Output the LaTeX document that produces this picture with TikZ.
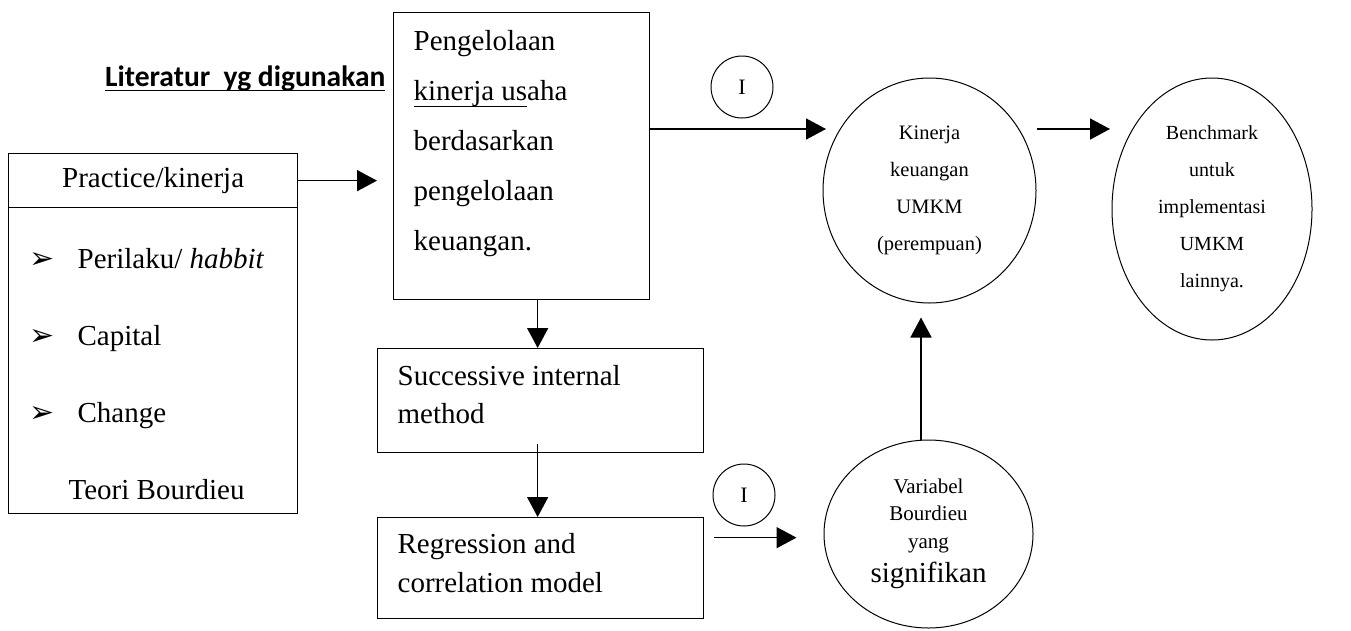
\documentclass[tikz,border=0pt]{standalone}
\usepackage{fontspec}
\setmainfont{Liberation Serif}
\newfontfamily\titlefont{Carlito}
\newfontfamily\symfont{DejaVu Sans}
\usetikzlibrary{arrows.meta,shapes.geometric}

\newsavebox\ulbox
\newcommand\ulin[3]{\sbox\ulbox{#3}\rlap{\rule[-#1]{\wd\ulbox}{#2}}\usebox\ulbox}
\newcommand\itm{\makebox[48pt][l]{\symfont\fontsize{30}{30}\selectfont ➢}}

\begin{document}
\begin{tikzpicture}[x=1pt,y=-1pt,
    box/.style={draw=black,line width=1.3pt,inner sep=0pt,anchor=north west},
    bubble/.style={draw=black,ellipse,line width=1pt,inner sep=0pt,align=center},
    marker/.style={draw=black,circle,minimum size=62pt,inner sep=0pt,line width=1pt,font=\fontsize{22}{22}\selectfont},
    arr/.style={-{Triangle[length=20pt,width=21pt]},line width=1.5pt}]
    \useasboundingbox (0,0) rectangle (1351,630);

    \node[anchor=base west,inner sep=0pt,font=\titlefont\bfseries\fontsize{29.5}{30}\selectfont] (lit) at (105,86) {\ulin{5pt}{1.5pt}{Literatur\ \ yg digunakan}};

    % teori bourdieu
    \node[box,minimum width=289pt,minimum height=54pt,font=\fontsize{29}{34}\selectfont] (head) at (8,153) {Practice/kinerja};
    \node[box] (body) at (8,207) {\parbox[c][306pt][t]{289pt}{\fontsize{29}{77}\selectfont
        \rule{0pt}{61pt}\hspace*{21pt}\itm Perilaku/ \textit{habbit}\\
        \hspace*{21pt}\itm Capital\\
        \hspace*{21pt}\itm Change\\
        \hspace*{60pt}Teori Bourdieu}};

    % metode
    \node[box] (mgmt) at (393,12) {\parbox[c][287pt][t]{256pt}{\fontsize{29}{50}\selectfont\leftskip=20pt
        \rule{0pt}{38pt}Pengelolaan\\ \ulin{6pt}{1pt}{kinerja us}aha\\ berdasarkan\\ pengelolaan\\ keuangan.}};
    \node[box] (sim) at (377,348) {\parbox[c][104pt][t]{326pt}{\fontsize{29}{38}\selectfont\leftskip=20pt
        \rule{0pt}{37pt}Successive internal\\ method}};
    \node[box] (reg) at (377,517) {\parbox[c][101pt][t]{326pt}{\fontsize{29}{39}\selectfont\leftskip=20pt
        \rule{0pt}{36pt}Regression and\\ correlation model}};

    % hasil
    \node[bubble,minimum width=213pt,minimum height=225pt,font=\fontsize{20.5}{37}\selectfont] (kin) at (929.5,190.5) {Kinerja\\keuangan\\UMKM\\(perempuan)};
    \node[bubble,minimum width=200pt,minimum height=262pt,font=\fontsize{20}{37}\selectfont] (bench) at (1212,209) {Benchmark\\untuk\\implementasi\\UMKM\\lainnya.};
    \node[bubble,minimum width=209pt,minimum height=188pt,font=\fontsize{21}{27.5}\selectfont] (var) at (928.5,534) {Variabel\\Bourdieu\\yang\\[7pt]{\fontsize{29}{35}\selectfont signifikan}};

    \node[marker] (i1) at (742,87) {I};
    \node[marker] (i2) at (744,495) {I};

    \coordinate (t1) at (826,129);
    \coordinate (t2) at (1110,129);

    \draw[arr,shorten >=16pt] (head.east) -- (head.east -| mgmt.west);
    \draw[arr] (mgmt.east |- t1) -- (t1);
    \draw[arr] (kin.east |- t2) -- (t2);
    \draw[arr] ([xshift=16pt]mgmt.south) -- ([xshift=16pt]mgmt.south |- sim.north);
    \draw[arr] ([shift={(-3pt,9pt)}]sim.south) -- ([xshift=-3pt]reg.north);
    \draw[arr,shorten <=10pt,shorten >=27pt] ([yshift=30.5pt]reg.east) -- ([yshift=30.5pt]reg.east -| var.west);
    \draw[arr,shorten >=14pt] ([xshift=-7.5pt]var.north) -- ([xshift=-7.5pt]var.north |- kin.south);
\end{tikzpicture}
\end{document}
